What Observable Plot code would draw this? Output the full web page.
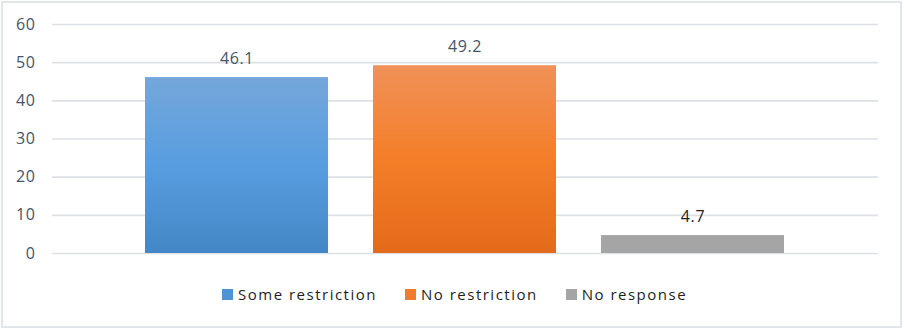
<!DOCTYPE html>
<html>
<head>
<meta charset="utf-8">
<script src="https://cdn.jsdelivr.net/npm/d3@7"></script>
<script src="https://cdn.jsdelivr.net/npm/@observablehq/plot@0.6"></script>
<style>
  html, body { margin: 0; padding: 0; background: #fff; }
  #wrap { position: relative; width: 904px; height: 329px; overflow: hidden; font-family: "Open Sans", sans-serif; }
  #frame { position: absolute; left: 1px; top: 1px; width: 901px; height: 327px; border: 2px solid #e2e5e9; box-sizing: border-box; pointer-events: none; }
  #chart { position: absolute; left: 0; top: 0; }
  #chart svg text { font-family: "Open Sans", sans-serif; letter-spacing: 0.6px; }
  #legend { position: absolute; left: 222px; top: 283px; display: flex; align-items: center; font-size: 15px; letter-spacing: 1.5px; color: #1e1e1e; white-space: nowrap; line-height: 22px; }
  .item { display: flex; align-items: center; margin-right: 28px; }
  .sw { width: 11px; height: 11px; margin-right: 5px; }
</style>
</head>
<body>
<div id="wrap">
  <div id="chart"></div>
  <div id="legend"></div>
  <div id="frame"></div>
</div>
<script>
// Data
const categories = ["Some restriction", "No restriction", "No response"];
const values = [46.1, 49.2, 4.7];
const yTicks = [0, 10, 20, 30, 40, 50, 60];

// Styles
const gradients = [
  ["#74a7da", "#589de0", "#4387c6"],
  ["#f09158", "#f47e28", "#e36a1a"],
  ["#a5a5a5", "#a5a5a5", "#a5a5a5"]
];
const swatchColors = ["#4d93d6", "#ef7c2e", "#a5a5a5"];
const labelColors = ["#44546a", "#44546a", "#1e1e1e"];

const data = categories.map((c, i) => ({
  name: c,
  value: values[i],
  fill: `url(#grad${i})`,
  label: values[i].toFixed(1),
  labelColor: labelColors[i]
}));

function defsMark() {
  const g = d3.create("svg:g");
  const defs = g.append("defs");
  gradients.forEach((stops, i) => {
    const lg = defs.append("linearGradient")
      .attr("id", `grad${i}`).attr("x1", 0).attr("y1", 0).attr("x2", 0).attr("y2", 1);
    stops.forEach((c, j) => lg.append("stop").attr("offset", `${j * 50}%`).attr("stop-color", c));
  });
  return g.node();
}

const chart = Plot.plot({
  width: 904,
  height: 270,
  marginLeft: 52,
  marginRight: 26,
  marginTop: 24,
  marginBottom: 17,
  x: { type: "band", domain: categories, range: [144, 786], paddingInner: 0.1965, paddingOuter: 0, axis: null },
  y: { domain: [0, 60], axis: null },
  color: { type: "identity" },
  marks: [
    defsMark,
    Plot.ruleY(yTicks, { stroke: "#dde1e6", strokeWidth: 1.6 }),
    Plot.axisY(yTicks, { tickSize: 0, tickPadding: 17, fontSize: 16, fill: "#44546a", textAnchor: "end", label: null }),
    Plot.barY(data, { x: "name", y: "value", fill: "fill" }),
    Plot.text(data, { x: "name", y: "value", text: "label", fill: "labelColor", fontSize: 16, lineAnchor: "bottom", dy: -14 })
  ]
});
document.getElementById("chart").appendChild(chart);

const legend = document.getElementById("legend");
categories.forEach((c, i) => {
  const item = document.createElement("div");
  item.className = "item";
  const sw = document.createElement("div");
  sw.className = "sw";
  sw.style.background = swatchColors[i];
  const t = document.createElement("span");
  t.textContent = c;
  item.appendChild(sw);
  item.appendChild(t);
  legend.appendChild(item);
});
</script>
</body>
</html>
